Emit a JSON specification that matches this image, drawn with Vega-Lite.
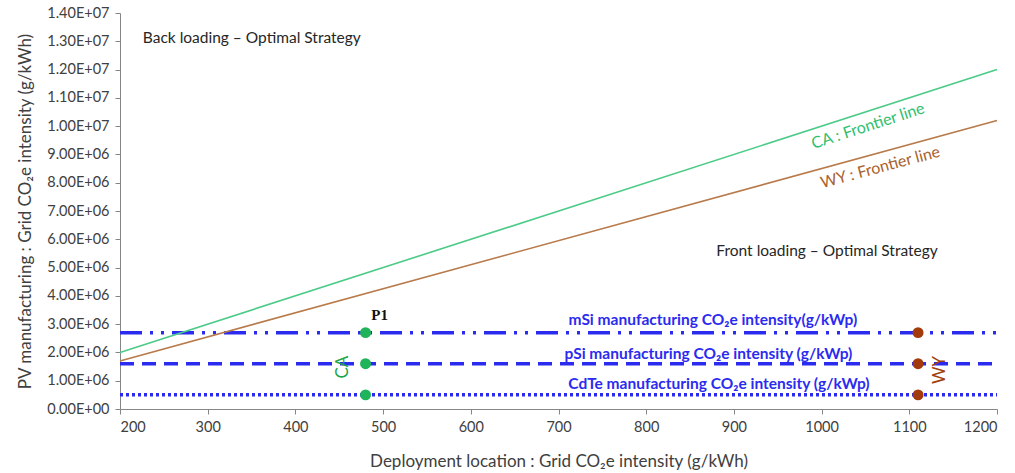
{
  "$schema": "https://vega.github.io/schema/vega-lite/v6.json",
  "width": 877,
  "height": 396,
  "autosize": {"type": "none"},
  "padding": {"left": 120, "top": 13, "right": 18, "bottom": 64},
  "background": "white",
  "config": {
    "view": {"stroke": null},
    "font": "Lato",
    "axis": {
      "domainColor": "#868686",
      "tickColor": "#868686",
      "tickSize": 5,
      "grid": false,
      "labelFont": "Lato",
      "labelFontSize": 14.5,
      "labelColor": "#404040",
      "titleFont": "Lato",
      "titleFontSize": 17,
      "titleFontWeight": "normal",
      "titleColor": "#404040"
    }
  },
  "resolve": {"scale": {"color": "independent"}},
  "datasets": {
    "frontiers": [
      {"site": "CA", "x": 200, "y": 2000000},
      {"site": "CA", "x": 1200, "y": 12000000},
      {"site": "WY", "x": 200, "y": 1700000},
      {"site": "WY", "x": 1200, "y": 10200000}
    ],
    "levels": [
      {"material": "mSi", "x": 200, "y": 2700000},
      {"material": "mSi", "x": 1200, "y": 2700000},
      {"material": "pSi", "x": 200, "y": 1600000},
      {"material": "pSi", "x": 1200, "y": 1600000},
      {"material": "CdTe", "x": 200, "y": 500000},
      {"material": "CdTe", "x": 1200, "y": 500000}
    ],
    "sites": [
      {"site": "CA", "material": "mSi", "x": 480, "y": 2700000},
      {"site": "CA", "material": "pSi", "x": 480, "y": 1600000},
      {"site": "CA", "material": "CdTe", "x": 480, "y": 500000},
      {"site": "WY", "material": "mSi", "x": 1110, "y": 2700000},
      {"site": "WY", "material": "pSi", "x": 1110, "y": 1600000},
      {"site": "WY", "material": "CdTe", "x": 1110, "y": 500000}
    ],
    "levelLabels": [
      {"label": "mSi manufacturing CO₂e intensity(g/kWp)", "x": 876, "y": 3150000},
      {"label": "pSi manufacturing CO₂e intensity (g/kWp)", "x": 871, "y": 1940000},
      {"label": "CdTe manufacturing CO₂e intensity (g/kWp)", "x": 883, "y": 880000}
    ],
    "regions": [
      {"label": "Back loading – Optimal Strategy", "x": 226, "y": 13120000},
      {"label": "Front loading – Optimal Strategy", "x": 880, "y": 5590000}
    ],
    "caFrontierLabel": [{"label": "CA : Frontier line", "x": 1053, "y": 10000000}],
    "wyFrontierLabel": [{"label": "WY : Frontier line", "x": 1067, "y": 8540000}],
    "caSiteLabel": [{"label": "CA", "x": 454, "y": 1480000}],
    "wySiteLabel": [{"label": "WY", "x": 1135, "y": 1380000}],
    "pointLabel": [{"label": "P1", "x": 496, "y": 3320000}]
  },
  "encoding": {
    "x": {
      "field": "x",
      "type": "quantitative",
      "scale": {"domain": [200, 1200], "nice": false, "zero": false},
      "axis": {
        "values": [200, 300, 400, 500, 600, 700, 800, 900, 1000, 1100, 1200],
        "format": "d",
        "labelPadding": 6,
        "title": "Deployment location : Grid CO₂e intensity (g/kWh)",
        "titlePadding": 20
      }
    },
    "y": {
      "field": "y",
      "type": "quantitative",
      "scale": {"domain": [0, 14000000], "nice": false},
      "axis": {
        "values": [0, 1000000, 2000000, 3000000, 4000000, 5000000, 6000000, 7000000, 8000000, 9000000, 10000000, 11000000, 12000000, 13000000, 14000000],
        "labelExpr": "replace(upper(format(datum.value, '.2e')), 'E+', 'E+0')",
        "labelPadding": 6,
        "title": "PV manufacturing : Grid CO₂e intensity (g/kWh)",
        "titlePadding": 12
      }
    }
  },
  "layer": [
    {
      "data": {"name": "levels"},
      "mark": {"type": "line", "strokeWidth": 3.5, "color": "#2b2bf0"},
      "encoding": {
        "detail": {"field": "material"},
        "strokeDash": {
          "field": "material",
          "type": "nominal",
          "scale": {"domain": ["mSi", "pSi", "CdTe"], "range": [[22, 8, 3, 8, 3, 8], [14, 8], [3, 3]]},
          "legend": null
        }
      }
    },
    {
      "data": {"name": "frontiers"},
      "mark": {"type": "line", "strokeWidth": 1.6},
      "encoding": {
        "color": {
          "field": "site",
          "type": "nominal",
          "scale": {"domain": ["CA", "WY"], "range": ["#4ccb88", "#b87a4a"]},
          "legend": null
        }
      }
    },
    {
      "data": {"name": "sites"},
      "mark": {"type": "circle", "size": 120, "opacity": 1},
      "encoding": {
        "color": {
          "field": "site",
          "type": "nominal",
          "scale": {"domain": ["CA", "WY"], "range": ["#1fb35a", "#a33a0c"]},
          "legend": null
        }
      }
    },
    {
      "data": {"name": "levelLabels"},
      "mark": {"type": "text", "font": "Lato", "fontSize": 15.5, "fontWeight": "bold", "color": "#2b2bf0", "align": "center", "baseline": "middle"},
      "encoding": {"text": {"field": "label"}}
    },
    {
      "data": {"name": "regions"},
      "mark": {"type": "text", "font": "Lato", "fontSize": 15.5, "color": "#262626", "align": "left", "baseline": "middle"},
      "encoding": {"text": {"field": "label"}}
    },
    {
      "data": {"name": "caFrontierLabel"},
      "mark": {"type": "text", "font": "Lato", "fontSize": 16, "color": "#2fbf6e", "align": "center", "baseline": "middle", "angle": -18},
      "encoding": {"text": {"field": "label"}}
    },
    {
      "data": {"name": "wyFrontierLabel"},
      "mark": {"type": "text", "font": "Lato", "fontSize": 16, "color": "#a8622e", "align": "center", "baseline": "middle", "angle": -15},
      "encoding": {"text": {"field": "label"}}
    },
    {
      "data": {"name": "caSiteLabel"},
      "mark": {"type": "text", "font": "Lato", "fontSize": 17, "color": "#1aa64a", "align": "center", "baseline": "middle", "angle": -90},
      "encoding": {"text": {"field": "label"}}
    },
    {
      "data": {"name": "wySiteLabel"},
      "mark": {"type": "text", "font": "Lato", "fontSize": 17, "color": "#a0400a", "align": "center", "baseline": "middle", "angle": -90},
      "encoding": {"text": {"field": "label"}}
    },
    {
      "data": {"name": "pointLabel"},
      "mark": {"type": "text", "font": "Liberation Serif", "fontSize": 15, "fontWeight": "bold", "color": "#111111", "align": "center", "baseline": "middle"},
      "encoding": {"text": {"field": "label"}}
    }
  ]
}
